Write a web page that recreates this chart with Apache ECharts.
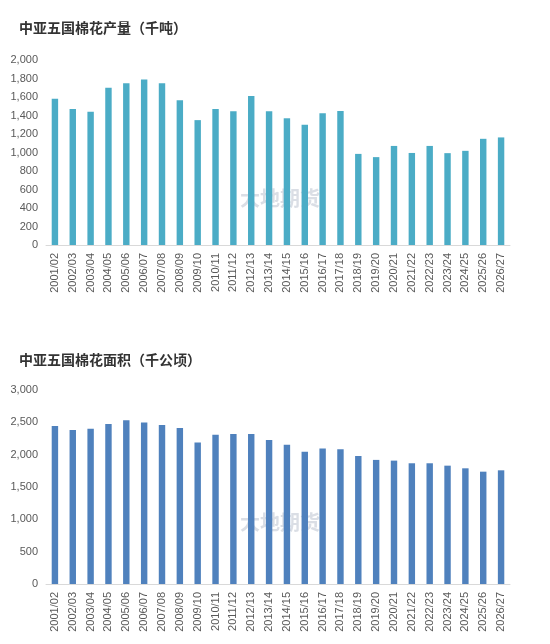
<!DOCTYPE html><html><head><meta charset="utf-8"><script src="https://cdn.jsdelivr.net/npm/echarts@6/dist/echarts.min.js"></script></head><body style="margin:0;background:#fff"><div id="c" style="width:550px;height:644px"></div><script>
const categories=["2001/02","2002/03","2003/04","2004/05","2005/06","2006/07","2007/08","2008/09","2009/10","2010/11","2011/12","2012/13","2013/14","2014/15","2015/16","2016/17","2017/18","2018/19","2019/20","2020/21","2021/22","2022/23","2023/24","2024/25","2025/26","2026/27"];
const production=[1580,1470,1440,1700,1750,1790,1750,1565,1350,1470,1445,1610,1445,1370,1300,1425,1450,985,950,1071,995,1071,993,1018,1148,1163];
const area=[2444,2382,2402,2475,2532,2496,2460,2413,2189,2309,2319,2319,2226,2153,2044,2096,2085,1981,1919,1908,1867,1867,1830,1789,1737,1758];
const ch=echarts.init(document.getElementById('c'));
const F='"Microsoft YaHei","Noto Sans CJK SC",sans-serif';
function xa(i){return {type:'category',gridIndex:i,data:categories,axisTick:{show:false},axisLine:{lineStyle:{color:'#d9d9d9'}},axisLabel:{rotate:90,color:'#595959',fontSize:11,interval:0,fontFamily:'Liberation Sans'}};}
function ya(i,max,iv){return {type:'value',gridIndex:i,min:0,max:max,interval:iv,splitLine:{show:false},axisLabel:{color:'#595959',fontSize:11,fontFamily:'Liberation Sans',formatter:v=>v.toLocaleString('en-US')}};}
ch.setOption({animation:false,
title:[{text:'中亚五国棉花产量（千吨）',left:14,top:16,textStyle:{fontSize:14,fontWeight:'bold',color:'#333',fontFamily:F}},
{text:'中亚五国棉花面积（千公顷）',left:14,top:348,textStyle:{fontSize:14,fontWeight:'bold',color:'#333',fontFamily:F}}],
grid:[{left:46,right:40,top:60,height:185},{left:46,right:40,top:390,height:194}],
xAxis:[xa(0),xa(1)],yAxis:[ya(0,2000,200),ya(1,3000,500)],
graphic:[{type:'text',left:240,top:188,style:{text:'大地期货',fontSize:20,fill:'rgba(150,160,180,0.35)',fontWeight:'bold',fontFamily:F}},
{type:'text',left:240,top:512,style:{text:'大地期货',fontSize:20,fill:'rgba(150,160,180,0.35)',fontWeight:'bold',fontFamily:F}}],
series:[{type:'bar',xAxisIndex:0,yAxisIndex:0,data:production,barWidth:'36%',itemStyle:{color:'#4bacc6'}},
{type:'bar',xAxisIndex:1,yAxisIndex:1,data:area,barWidth:'36%',itemStyle:{color:'#4f81bd'}}]});
</script></body></html>
